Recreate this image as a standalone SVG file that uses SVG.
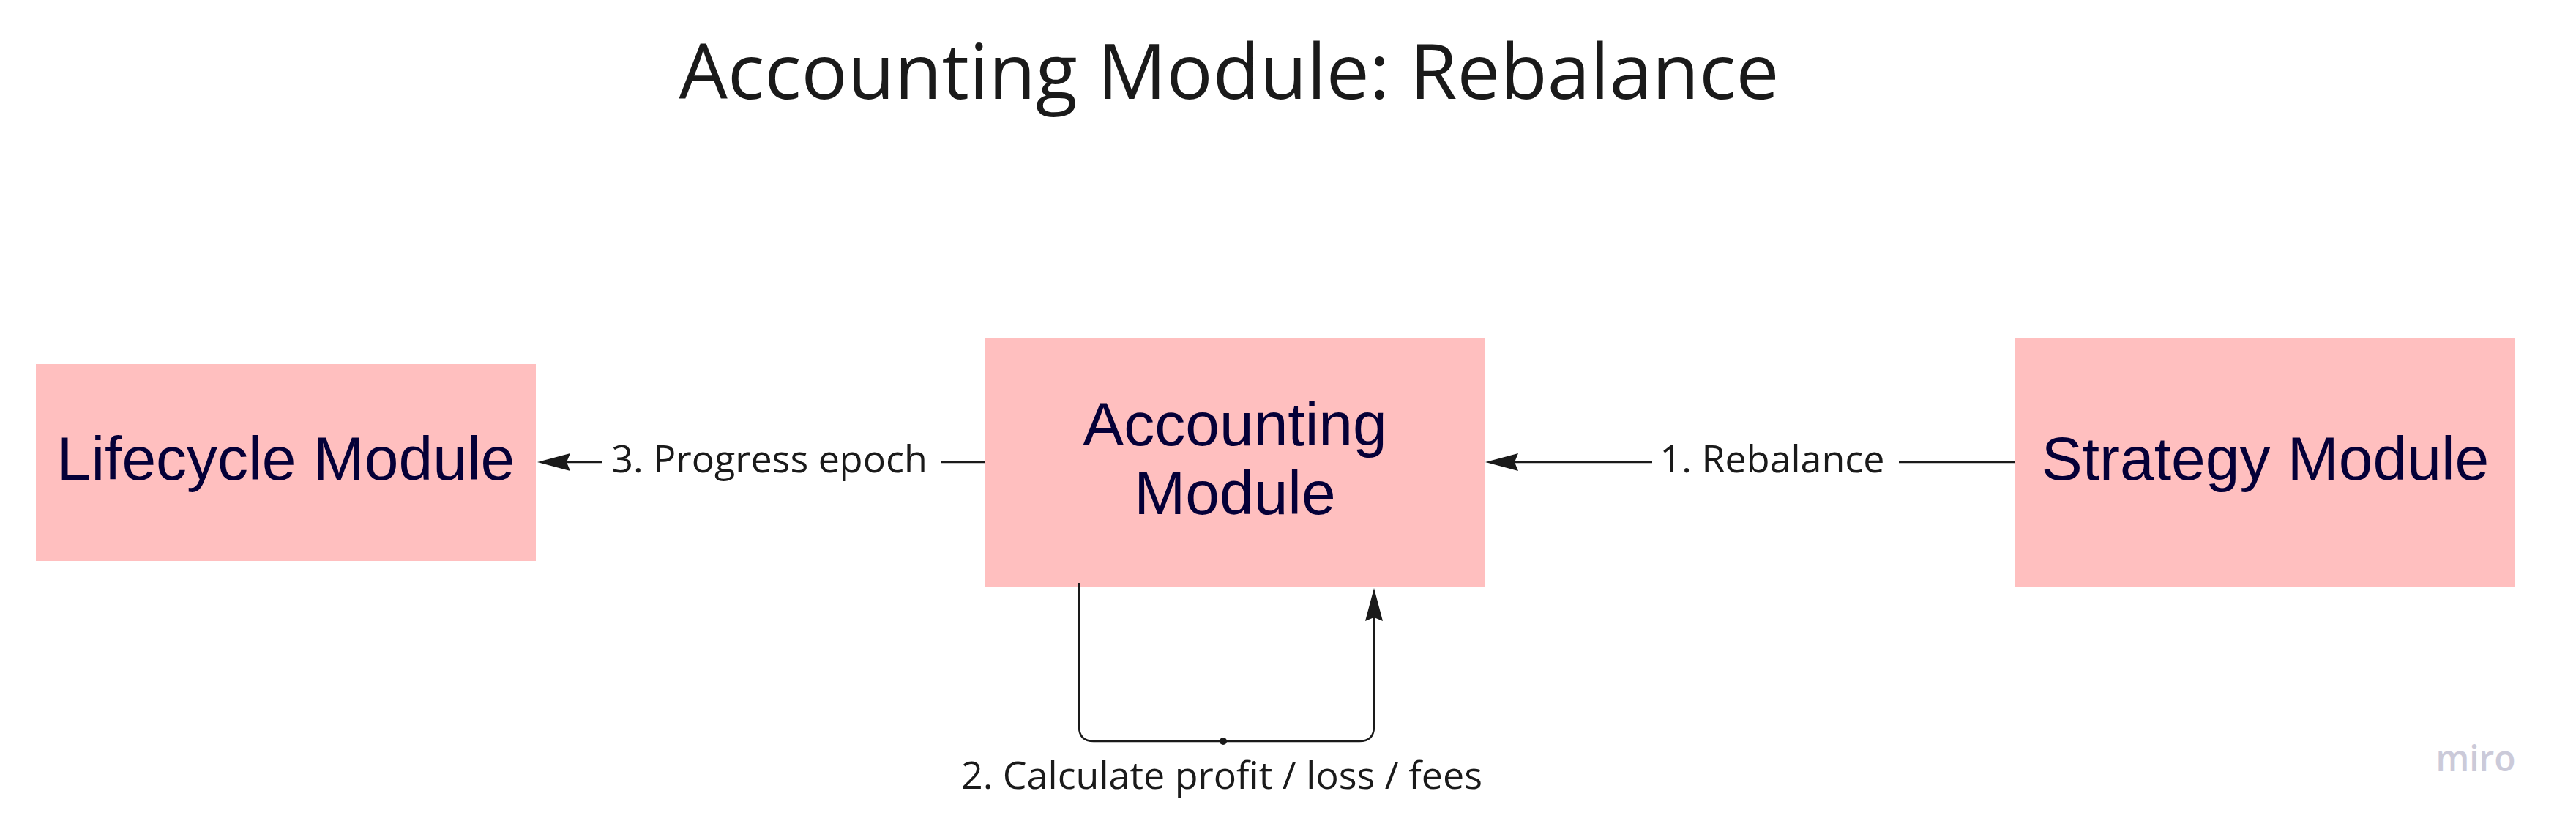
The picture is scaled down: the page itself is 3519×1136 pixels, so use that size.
<svg xmlns="http://www.w3.org/2000/svg" width="3519" height="1136" viewBox="0 0 3519 1136">
  <style>
    .box { fill: #FFBFBF; }
    .nodeText { font-family: "Liberation Sans", Arial, sans-serif; font-size: 84px; fill: #050038; text-anchor: middle; }
    .title { font-family: "Open Sans", "Noto Sans", sans-serif; font-size: 105px; fill: #1a1a1a; text-anchor: middle; }
    .label { font-family: "Open Sans", "Noto Sans", sans-serif; font-size: 52px; fill: #1a1a1a; text-anchor: middle; }
    .conn { fill: none; stroke: #1a1a1a; stroke-width: 2.5; }
    .wm { font-family: "Open Sans", "Noto Sans", sans-serif; font-size: 48px; font-weight: 600; fill: #cbcad9; text-anchor: middle; }
  </style>
  <defs>
    <marker id="arrow" markerUnits="userSpaceOnUse" viewBox="0 0 45 24" markerWidth="45" markerHeight="24" refX="39" refY="12" orient="auto">
      <path d="M0,0 L45,12 L0,24 L5,12 Z" fill="#1a1a1a"/>
    </marker>
  </defs>
  <rect width="3519" height="1136" fill="#ffffff"/>

  <text class="title" x="1679" y="135">Accounting Module: Rebalance</text>

  <g id="node-lifecycle">
    <rect class="box" x="49" y="497" width="683" height="269"/>
    <text class="nodeText" x="390.5" y="655">Lifecycle Module</text>
  </g>
  <g id="node-accounting">
    <rect class="box" x="1345" y="461" width="684" height="341"/>
    <text class="nodeText" x="1687" y="608">Accounting</text>
    <text class="nodeText" x="1687" y="702">Module</text>
  </g>
  <g id="node-strategy">
    <rect class="box" x="2753" y="461" width="683" height="341"/>
    <text class="nodeText" x="3094.5" y="655">Strategy Module</text>
  </g>

  <g id="connectors">
    <path class="conn" d="M2753,631 H2594 M2257,631 H2035" marker-end="url(#arrow)"/>
    <text class="label" x="2421" y="645">1. Rebalance</text>

    <path class="conn" d="M1474,796 V992 Q1474,1012 1494,1012 H1857 Q1877,1012 1877,992 V809" marker-end="url(#arrow)"/>
    <circle cx="1671" cy="1012" r="5" fill="#1a1a1a"/>
    <text class="label" x="1669" y="1077">2. Calculate profit / loss / fees</text>

    <path class="conn" d="M1345,631 H1286 M822,631 H740" marker-end="url(#arrow)"/>
    <text class="label" x="1051" y="645">3. Progress epoch</text>
  </g>

  <text class="wm" x="3382" y="1053">miro</text>
</svg>
